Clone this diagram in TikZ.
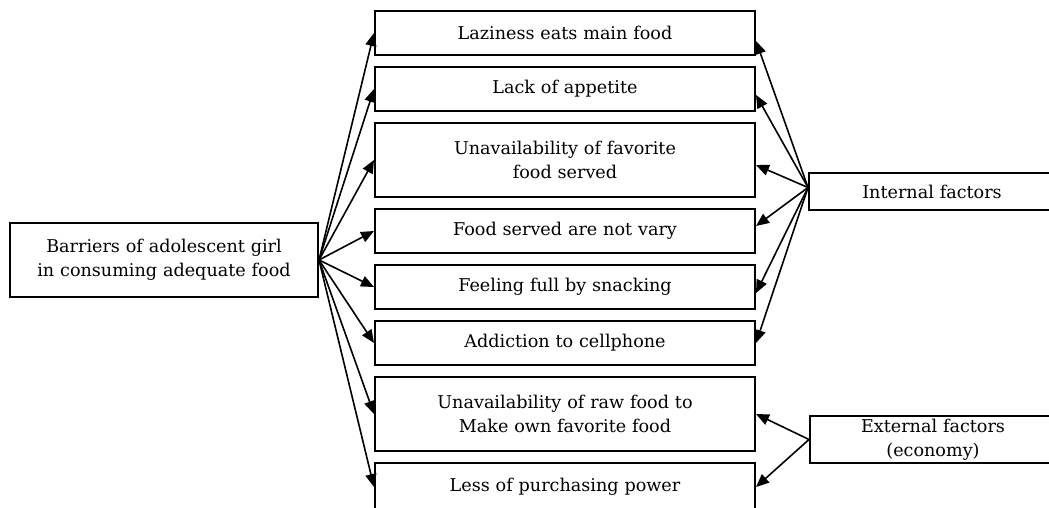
\documentclass[tikz,border=0pt]{standalone}
\usepackage{fontspec}
\setmainfont{DejaVu Serif}
\usetikzlibrary{positioning,arrows.meta}
\tikzstyle{block} = [rectangle,line width=1pt,draw,minimum width=190pt,minimum height=22pt,
  text width=180pt,text centered]
\tikzstyle{tall} = [minimum height=37pt]
\tikzstyle{factor} = [rectangle,line width=1pt,draw,minimum width=123pt,text width=115pt,
  text centered]
\tikzstyle{link} = [line width=0.8pt,-{Triangle[length=6.5pt,width=5.5pt]}]

\begin{document}
\begin{tikzpicture}[x=0.5pt,y=-0.5pt,node distance=5pt,
  font=\fontsize{8.8}{12}\selectfont]
\useasboundingbox (0,0) rectangle (1049,508);
\clip (0,0) rectangle (1049,508);

\node [block,tall,minimum width=154pt,text width=145pt] (barrier) at (164,260)
  {Barriers of adolescent girl\\in consuming adequate food};

% barriers
\node [block,anchor=north] (lazy) at (565,10) {Laziness eats main food};
\node [block,below=of lazy] (appetite) {Lack of appetite};
\node [block,tall,below=of appetite] (favorite) {Unavailability of favorite\\food served};
\node [block,below=of favorite] (vary) {Food served are not vary};
\node [block,below=of vary] (snack) {Feeling full by snacking};
\node [block,below=of snack] (phone) {Addiction to cellphone};
\node [block,tall,below=of phone] (rawfood) {Unavailability of raw food to\\Make own favorite food};
\node [block,minimum height=24pt,below=of rawfood] (purchase) {Less of purchasing power};

% factors
\node [factor,minimum height=18.5pt] (internal) at (932,191.5) {Internal factors};
\node [factor,minimum height=23.5pt,inner ysep=1pt] (external) at (933,439.5)
  {External factors\\(economy)};
\coordinate (inhub) at ([yshift=2pt]internal.west);

\foreach \m in {lazy,appetite,favorite,vary,snack,phone,rawfood,purchase}
  \draw [link] (barrier.east) -- (\m.west);

\foreach \m/\s in {lazy/-4pt,appetite/-3pt,favorite/-2.5pt,vary/2.5pt,snack/-3pt,phone/0pt}
  \draw [link] (inhub) -- ([yshift=\s]\m.east);

\draw [link] (external.west) -- (rawfood.east);
\draw [link] (external.west) -- (purchase.east);
\end{tikzpicture}
\end{document}
